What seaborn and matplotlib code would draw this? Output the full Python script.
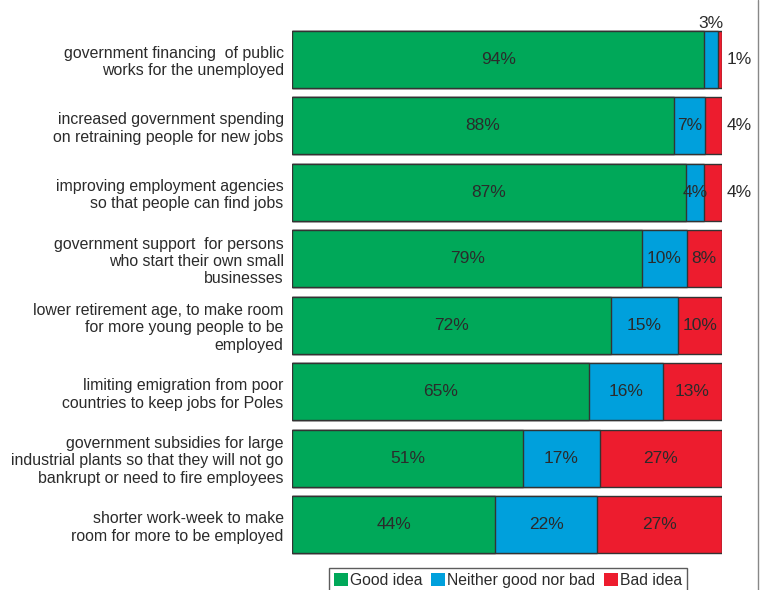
import numpy as np
import pandas as pd
import matplotlib
matplotlib.use("Agg")
import matplotlib.pyplot as plt
from matplotlib.lines import Line2D
from matplotlib.patches import Patch
import seaborn as sns

categories = [
    "government financing  of public\nworks for the unemployed",
    "increased government spending\non retraining people for new jobs",
    "improving employment agencies\nso that people can find jobs",
    "government support  for persons\nwho start their own small\nbusinesses",
    "lower retirement age, to make room\nfor more young people to be\nemployed",
    "limiting emigration from poor\ncountries to keep jobs for Poles",
    "government subsidies for large\nindustrial plants so that they will not go\nbankrupt or need to fire employees",
    "shorter work-week to make\nroom for more to be employed",
]
good = [94, 88, 87, 79, 72, 65, 51, 44]
neither = [3, 7, 4, 10, 15, 16, 17, 22]
bad = [1, 4, 4, 8, 10, 13, 27, 27]
series_names = ["Good idea", "Neither good nor bad", "Bad idea"]

colors = ["#00A859", "#00A0DC", "#ED1C2E"]
edge = "#333333"
txt = "#2b2b2b"

sns.set_theme(style="white")
plt.rcParams["font.family"] = ["Liberation Sans", "DejaVu Sans"]

df = pd.DataFrame({"cat": categories, "good": good, "neither": neither, "bad": bad})
total = df[["good", "neither", "bad"]].sum(axis=1)
# each bar spans the full width: shares relative to the answers shown
df["g"] = df["good"] / total * 100
df["n"] = df["neither"] / total * 100
df["b"] = df["bad"] / total * 100
df["c1"] = df["g"]
df["c2"] = df["g"] + df["n"]
df["c3"] = df["c2"] + df["b"]

fig = plt.figure(figsize=(7.64, 5.90), dpi=100)
W, H = 764, 590
ax = fig.add_axes([292 / W, 1 - 558 / H, (722 - 292) / W, (558 - 26) / H])

for col, color in zip(["c3", "c2", "c1"], colors[::-1]):
    sns.barplot(data=df, y="cat", x=col, orient="h", color=color, ax=ax,
                width=0.86, edgecolor=edge, linewidth=1.0, saturation=1)

ax.set_xlim(0, 100)
ax.set_ylim(len(categories) - 0.5, -0.5)
ax.set_xlabel("")
ax.set_ylabel("")
ax.set_xticks([])
ax.tick_params(axis="y", length=0, pad=6, labelsize=11.4, labelcolor=txt)
for lab in ax.get_yticklabels():
    lab.set_horizontalalignment("right")
    lab.set_multialignment("right")
for s in ax.spines.values():
    s.set_visible(False)

fs = 12.5
for i, row in df.iterrows():
    # good idea
    ax.text(row["g"] / 2, i, f"{row['good']}%", ha="center", va="center", fontsize=fs, color=txt)
    # neither
    ncx = row["g"] + row["n"] / 2
    if row["neither"] < 4:
        ax.text(ncx, i - 0.43, f"{row['neither']}%", ha="center", va="bottom", fontsize=fs, color=txt)
    else:
        ax.text(ncx, i, f"{row['neither']}%", ha="center", va="center", fontsize=fs, color=txt)
    # bad
    if row["bad"] <= 4:
        ax.text(101, i, f"{row['bad']}%", ha="left", va="center", fontsize=fs, color=txt, clip_on=False)
    else:
        ax.text(row["c2"] + row["b"] / 2, i, f"{row['bad']}%", ha="center", va="center", fontsize=fs, color=txt)

handles = [Patch(facecolor=c, edgecolor="none") for c in colors]
leg = fig.legend(handles, series_names, loc="upper center", ncol=3,
                 bbox_to_anchor=(508 / W, 1 - 568 / H), bbox_transform=fig.transFigure,
                 frameon=True, fancybox=False, fontsize=11.3, handlelength=0.9, handleheight=0.9,
                 handletextpad=0.12, columnspacing=0.55, borderpad=0.3, borderaxespad=0)
leg.get_frame().set_edgecolor("#333333")
leg.get_frame().set_linewidth(1.0)
for t in leg.get_texts():
    t.set_color(txt)

fig.add_artist(Line2D([758 / W, 758 / W], [0, 1], transform=fig.transFigure, color="#888888", lw=1.0))

fig.savefig("out.png", dpi=100)
